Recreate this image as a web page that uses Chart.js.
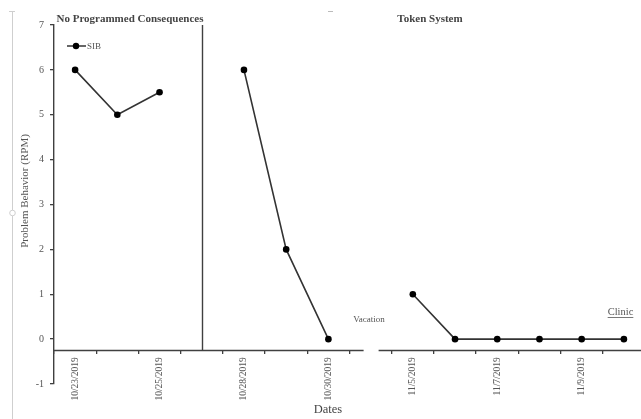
<!DOCTYPE html>
<html><head><meta charset="utf-8">
<script src="https://cdn.jsdelivr.net/npm/chart.js@4"></script>
<style>html,body{margin:0;padding:0;background:#fff;overflow:hidden}</style>
</head><body>
<canvas id="c" width="649" height="419"></canvas>
<script>
// ---- data ----
const categories = ['10/23/2019','10/24/2019','10/25/2019','','10/28/2019','10/29/2019','10/30/2019','','11/5/2019','11/6/2019','11/7/2019','11/8/2019','11/9/2019','11/10/2019'];
const shownLabels = ['10/23/2019','10/25/2019','10/28/2019','10/30/2019','11/5/2019','11/7/2019','11/9/2019'];
const sibValues = [6,5,5.5,null,6,2,0,null,1,0,0,0,0,0];
const seriesName = 'SIB';
const yMin = -1, yMax = 7, yStep = 1;
const phaseLabels = ['No Programmed Consequences','Token System'];
const phaseChangeIndex = 3;
const breakIndex = 7;
const noteLabels = ['Vacation','Clinic'];
const xTitle = 'Dates';
const yTitle = 'Problem Behavior (RPM)';

const SERIF = '"Liberation Serif", "Times New Roman", serif';
const axisColor = '#404040';
const textColor = '#555555';
const lineColor = '#333333';

const decor = {
  id: 'decor',
  beforeDraw(chart) {
    const ctx = chart.ctx;
    ctx.save();
    // faint page artifacts (selection handle line)
    ctx.strokeStyle = '#cfcfcf'; ctx.lineWidth = 1;
    ctx.beginPath(); ctx.moveTo(12.5, 11); ctx.lineTo(12.5, 419); ctx.stroke();
    ctx.beginPath(); ctx.moveTo(9, 11.5); ctx.lineTo(15, 11.5); ctx.stroke();
    ctx.fillStyle = '#fff';
    ctx.beginPath(); ctx.arc(12.5, 213, 2.8, 0, Math.PI*2); ctx.fill(); ctx.stroke();
    ctx.strokeStyle = '#bbbbbb';
    ctx.beginPath(); ctx.moveTo(328, 11.5); ctx.lineTo(333, 11.5); ctx.stroke();
    ctx.restore();
  },
  afterDraw(chart) {
    const {ctx, chartArea: a, scales: {x, y}} = chart;
    ctx.save();
    const yb = Math.round(y.getPixelForValue(-0.25)) + 0.5;
    const gx = x.getPixelForValue(breakIndex);
    ctx.strokeStyle = axisColor; ctx.lineWidth = 1.4;
    ctx.beginPath();
    ctx.moveTo(a.left, yb); ctx.lineTo(gx - 7, yb);
    ctx.moveTo(gx + 8, yb); ctx.lineTo(a.right, yb);
    ctx.stroke();
    // phase change line
    const px = Math.round(x.getPixelForValue(phaseChangeIndex)) + 0.5;
    ctx.beginPath(); ctx.moveTo(px, y.getPixelForValue(yMax)); ctx.lineTo(px, yb); ctx.stroke();

    // phase titles
    ctx.fillStyle = '#444';
    ctx.font = 'bold 11px ' + SERIF;
    ctx.textAlign = 'center'; ctx.textBaseline = 'middle';
    ctx.fillText(phaseLabels[0], 130, 19);
    ctx.fillText(phaseLabels[1], 430, 19);

    // legend
    ctx.strokeStyle = lineColor; ctx.lineWidth = 1.5;
    ctx.beginPath(); ctx.moveTo(67, 46); ctx.lineTo(86, 46); ctx.stroke();
    ctx.fillStyle = '#000';
    ctx.beginPath(); ctx.arc(76, 46, 3.2, 0, Math.PI*2); ctx.fill();
    ctx.fillStyle = textColor; ctx.font = '9px ' + SERIF;
    ctx.textAlign = 'left';
    ctx.fillText(seriesName, 87, 46.5);

    // notes
    ctx.font = '9px ' + SERIF; ctx.textAlign = 'center';
    ctx.fillText(noteLabels[0], 369, 319.5);
    ctx.font = '10.5px ' + SERIF;
    ctx.fillText(noteLabels[1], 620.5, 312.5);
    const cw = ctx.measureText(noteLabels[1]).width;
    ctx.strokeStyle = textColor; ctx.lineWidth = 0.8;
    ctx.beginPath(); ctx.moveTo(620.5 - cw/2, 317.5); ctx.lineTo(620.5 + cw/2, 317.5); ctx.stroke();

    // axis titles
    ctx.fillStyle = '#444';
    ctx.font = '12.5px ' + SERIF;
    ctx.fillText(xTitle, 328, 410);
    ctx.save();
    ctx.translate(25, 191);
    ctx.rotate(-Math.PI/2);
    ctx.fillStyle = textColor;
    ctx.font = '11px ' + SERIF;
    ctx.fillText(yTitle, 0, 0);
    ctx.restore();
    ctx.restore();
  }
};

new Chart(document.getElementById('c'), {
  type: 'line',
  data: {
    labels: categories,
    datasets: [{
      label: seriesName,
      data: sibValues,
      borderColor: lineColor,
      borderWidth: 1.6,
      pointRadius: 3.3,
      pointBackgroundColor: '#000',
      pointBorderColor: '#000',
      pointBorderWidth: 0,
      spanGaps: false,
      tension: 0
    }]
  },
  options: {
    responsive: false,
    devicePixelRatio: 1,
    animation: false,
    layout: { padding: { top: 25, bottom: 35, left: 0, right: 0 } },
    plugins: { legend: { display: false }, tooltip: { enabled: false } },
    scales: {
      x: {
        type: 'category',
        position: { y: -0.25 },
        offset: true,
        border: { display: false },
        afterFit: s => { s.paddingLeft = 0; s.paddingRight = 0; },
        grid: { offset: true, drawOnChartArea: false, drawTicks: true, tickLength: 4, color: axisColor, lineWidth: 1.3 },
        ticks: {
          autoSkip: false, maxRotation: 90, minRotation: 90, padding: 3,
          color: textColor, font: { family: SERIF, size: 9.5 },
          callback: function(v, i) { const l = this.getLabelForValue(v); return shownLabels.includes(l) ? l : ''; }
        }
      },
      y: {
        min: yMin, max: yMax,
        afterFit: s => { s.width = 54; },
        border: { display: true, color: axisColor, width: 1.4 },
        grid: { drawOnChartArea: false, drawTicks: true, tickLength: 4, color: axisColor, lineWidth: 1.3 },
        ticks: { stepSize: yStep, padding: 6, color: textColor, font: { family: SERIF, size: 10 } }
      }
    }
  },
  plugins: [decor]
});
</script>
</body></html>
